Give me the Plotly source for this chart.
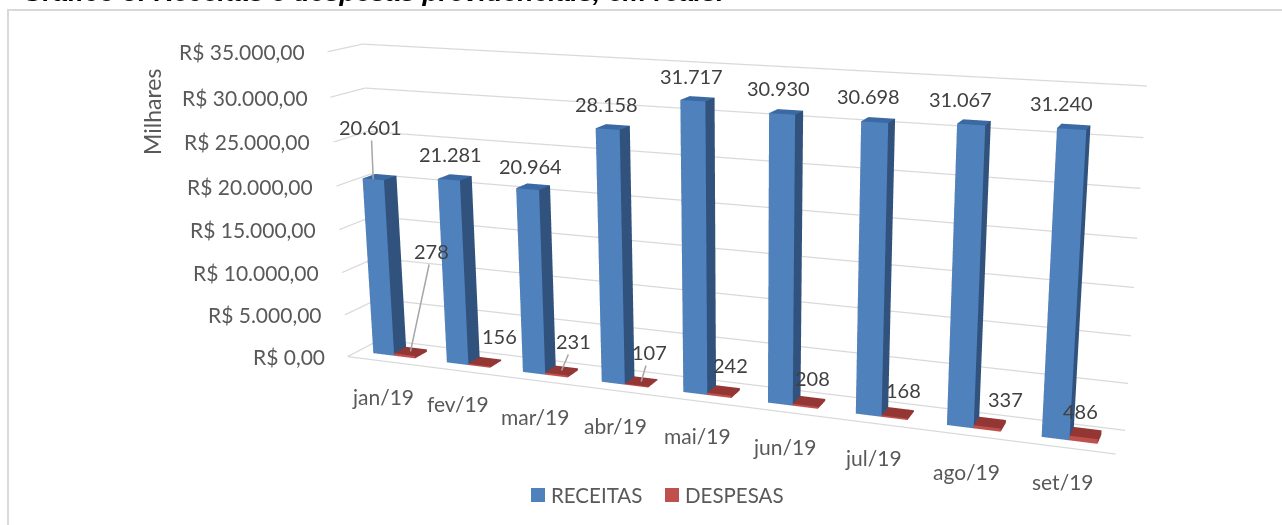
import numpy as np
import plotly.graph_objects as go

months = ["jan/19","fev/19","mar/19","abr/19","mai/19","jun/19","jul/19","ago/19","set/19"]
receitas = [20601,21281,20964,28158,31717,30930,30698,31067,31240]
despesas = [278,156,231,107,242,208,168,337,486]
rec_labels = ["20.601","21.281","20.964","28.158","31.717","30.930","30.698","31.067","31.240"]
des_labels = ["278","156","231","107","242","208","168","337","486"]
tick_vals = [0,5000,10000,15000,20000,25000,30000,35000]
tick_text = ["R$ 0,00","R$ 5.000,00","R$ 10.000,00","R$ 15.000,00","R$ 20.000,00","R$ 25.000,00","R$ 30.000,00","R$ 35.000,00"]

# label placement in window pixels (centres)
rec_pos = [(371,127),(451,154),(531,166),(607,104),(692,76),(779,88),(869,96),(961,99),(1062,103)]
des_pos = [(432,251),(500,336),(574,341),(650,352),(731,365),(813,378),(904,390),(1006,399),(1081,411)]
cat_pos = [(383,397),(458,404),(535,416),(615,426),(698,436),(785,447),(874,458),(967,472),(1063,482)]
leaders = {"rec":[0],"des":[0,2,3]}

FW,FH,TOP = 1511,1348,419
EYE=(1.3944,-3.5525,0.9594); CEN=(0.115,0,-0.0428); UP=(0.0399,-0.1153,1.0); ASP=(2.0,0.1566,0.8054)
XR=(0,9); YR=(0,1); ZR=(0,35000)
G,BW=0.214,0.286; Y0,Y1=0.31,0.69

def project(x,y,z):
    q=np.array([x/9,y,z/35000.])
    w=(q-.5)*np.array(ASP)-np.array(EYE)
    f=np.array(CEN)-np.array(EYE); f=f/np.linalg.norm(f)
    s=np.cross(f,UP); s=s/np.linalg.norm(s); u=np.cross(s,f)
    F=(FH/2)/np.tan(np.pi/8)
    return FW/2+F*(w@s)/(w@f), FH/2-TOP-F*(w@u)/(w@f)

def bars(values,off,front,side,top,name):
    X,Y,Z,I,J,K,C=[],[],[],[],[],[],[]
    for n,v in enumerate(values):
        a,b=n+G+off*BW,n+G+(off+1)*BW
        b0=len(X)
        for zz in (0,v):
            for xx,yy in ((a,Y0),(b,Y0),(b,Y1),(a,Y1)):
                X.append(xx);Y.append(yy);Z.append(zz)
        faces=[((0,1,5,4),front),((1,2,6,5),side),((4,5,6,7),top),((0,3,7,4),side),((3,2,6,7),side),((0,1,2,3),side)]
        for (p,q,r,t),c in faces:
            I+=[b0+p,b0+p];J+=[b0+q,b0+r];K+=[b0+r,b0+t];C+=[c,c]
    return go.Mesh3d(x=X,y=Y,z=Z,i=I,j=J,k=K,facecolor=C,flatshading=True,name=name,hoverinfo="skip",showlegend=False,
        lighting=dict(ambient=1,diffuse=0,specular=0,roughness=1,fresnel=0))

fig=go.Figure()
fig.add_trace(bars(receitas,0,"#4F81BD","#30527D","#3A69A3","RECEITAS"))
fig.add_trace(bars(despesas,1,"#C0504D","#943634","#943634","DESPESAS"))
gx,gy,gz=[0,9,None],[0,0,None],[0,0,None]
for v in tick_vals:
    gx+=[0,0,9,None]; gy+=[0,1,1,None]; gz+=[v,v,v,None]
fig.add_trace(go.Scatter3d(x=gx,y=gy,z=gz,mode="lines",line=dict(color="#D9D9D9",width=2.5),hoverinfo="skip",showlegend=False,connectgaps=False))

ann=[]
LAB="Lato"
def a3(x,y,z,t,tx,ty,color,size=20,leader=False):
    px,py=project(x,y,z)
    d=dict(x=x,y=y,z=z,text=t,font=dict(family=LAB,size=size,color=color))
    if leader:
        d.update(showarrow=True,arrowhead=0,arrowcolor="#A6A6A6",arrowwidth=1.5,ax=tx-px,ay=ty-py,standoff=0)
    else:
        d.update(showarrow=False,xshift=tx-px,yshift=py-ty)
    return d
for n in range(9):
    ann.append(a3(n+G+BW/2,Y0,receitas[n],rec_labels[n],*rec_pos[n],"#404040",leader=n in leaders["rec"]))
    ann.append(a3(n+G+1.5*BW,(Y0+Y1)/2,despesas[n],des_labels[n],*des_pos[n],"#404040",leader=n in leaders["des"]))
    ann.append(a3(n+.5,0,0,months[n],*cat_pos[n],"#595959",size=21))
for v,t in zip(tick_vals,tick_text):
    ann.append(dict(x=0,y=0,z=v,text=t,showarrow=False,xanchor="right",xshift=-21,yshift=0,font=dict(family=LAB,size=21,color="#595959")))

def px(x): return x/FW
def py(y): return 1-(y+TOP)/FH
legend_items=[("RECEITAS","#4F81BD",531,549),("DESPESAS","#C0504D",665,683)]
paper=[dict(xref="paper",yref="paper",x=px(152),y=py(112),xanchor="center",yanchor="middle",text="Milhares",textangle=-90,showarrow=False,font=dict(family=LAB,size=23,color="#595959")),
       dict(xref="paper",yref="paper",x=px(20),y=py(9),xanchor="left",yanchor="bottom",showarrow=False,
            text="<b><i>Gráfico 3: Receitas e despesas previdenciais, em reais.</i></b>",font=dict(family="Liberation Sans",size=26.7,color="#000000"))]
shapes=[dict(type="rect",xref="paper",yref="paper",x0=px(8),x1=px(1320),y0=py(10),y1=py(560),line=dict(color="#D9D9D9",width=2))]
for name,c,sx,tx in legend_items:
    shapes.append(dict(type="rect",xref="paper",yref="paper",x0=px(sx),x1=px(sx+14),y0=py(488),y1=py(502),fillcolor=c,line=dict(width=0)))
    paper.append(dict(xref="paper",yref="paper",x=px(tx),y=py(495),xanchor="left",yanchor="middle",text=name,showarrow=False,font=dict(family=LAB,size=20.5,color="#595959")))
ax=dict(showbackground=False,showticklabels=False,showgrid=False,zeroline=False,showline=False,showspikes=False,title="",ticks="")
fig.update_layout(width=FW,height=FH,margin=dict(l=0,r=0,t=0,b=0),paper_bgcolor="white",showlegend=False,
  annotations=paper,shapes=shapes,
  scene=dict(domain=dict(x=[0,1],y=[0,1]),aspectmode="manual",aspectratio=dict(x=ASP[0],y=ASP[1],z=ASP[2]),
    camera=dict(eye=dict(x=EYE[0],y=EYE[1],z=EYE[2]),center=dict(x=CEN[0],y=CEN[1],z=CEN[2]),up=dict(x=UP[0],y=UP[1],z=UP[2])),
    xaxis=dict(range=list(XR),**ax),yaxis=dict(range=list(YR),**ax),
    zaxis=dict(range=list(ZR),tickvals=tick_vals,**ax),
    annotations=ann))
post=f"""var gd=document.getElementById('{{plot_id}}');
document.documentElement.style.overflow='hidden';document.body.style.overflow='hidden';document.body.style.margin='0';
gd.style.position='fixed';gd.style.left='0';gd.style.top='-{TOP}px';"""
fig.write_html("out.html",config=dict(displayModeBar=False),post_script=post)
